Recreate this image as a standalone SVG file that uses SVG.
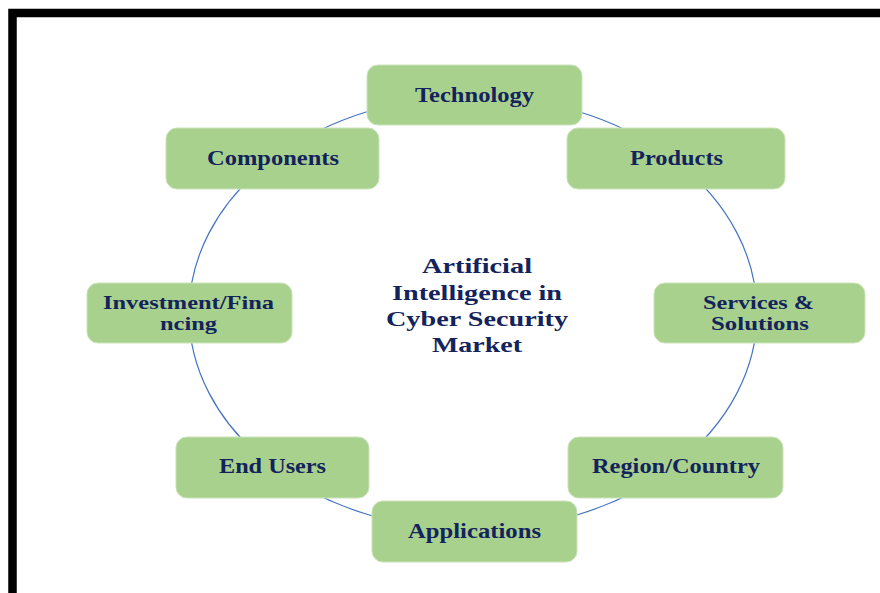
<svg xmlns="http://www.w3.org/2000/svg" width="880" height="593" viewBox="0 0 880 593">
<style>
.box{fill:#A9D18E;stroke:#C9E3B8;stroke-width:1}
.t{font-family:"Liberation Serif","Times New Roman",serif;font-weight:bold;font-size:20px;fill:#13235B;text-anchor:middle}
.c{font-size:21px}
.two{font-size:19px}
.conn{fill:none;stroke:#4472C4;stroke-width:1.2}
</style>
<rect width="880" height="593" fill="#ffffff"/>
<path d="M12.5,593 V13 H880" fill="none" stroke="#000" stroke-width="8.5"/>
<g id="connectors">
<ellipse class="conn" cx="473" cy="313" rx="284" ry="217"/>
</g>
<g id="center">
<text class="t c" x="477" y="273" textLength="110" lengthAdjust="spacingAndGlyphs">Artificial</text>
<text class="t c" x="477" y="300" textLength="170" lengthAdjust="spacingAndGlyphs">Intelligence in</text>
<text class="t c" x="477" y="326" textLength="182" lengthAdjust="spacingAndGlyphs">Cyber Security</text>
<text class="t c" x="477" y="352" textLength="90" lengthAdjust="spacingAndGlyphs">Market</text>
</g>
<g id="technology">
<rect class="box" x="367" y="65" width="215" height="60" rx="11"/>
<text class="t" x="474.5" y="101.5" textLength="119" lengthAdjust="spacingAndGlyphs">Technology</text>
</g>
<g id="products">
<rect class="box" x="567" y="128" width="218" height="61" rx="11"/>
<text class="t" x="676.5" y="165" textLength="93" lengthAdjust="spacingAndGlyphs">Products</text>
</g>
<g id="components">
<rect class="box" x="166" y="128" width="213" height="61" rx="11"/>
<text class="t" x="273" y="165" textLength="132" lengthAdjust="spacingAndGlyphs">Components</text>
</g>
<g id="investment">
<rect class="box" x="87" y="283" width="205" height="60" rx="11"/>
<text class="t two" x="188.5" y="308.5" textLength="171" lengthAdjust="spacingAndGlyphs">Investment/Fina</text>
<text class="t two" x="188.5" y="329.5" textLength="57" lengthAdjust="spacingAndGlyphs">ncing</text>
</g>
<g id="services">
<rect class="box" x="654" y="283" width="211" height="60" rx="11"/>
<text class="t two" x="758.5" y="308.5" textLength="111" lengthAdjust="spacingAndGlyphs">Services &amp;</text>
<text class="t two" x="760" y="329.5" textLength="98" lengthAdjust="spacingAndGlyphs">Solutions</text>
</g>
<g id="end-users">
<rect class="box" x="176" y="437" width="193" height="61" rx="11"/>
<text class="t" x="272.5" y="473" textLength="107" lengthAdjust="spacingAndGlyphs">End Users</text>
</g>
<g id="region">
<rect class="box" x="568" y="437" width="215" height="61" rx="11"/>
<text class="t" x="676" y="473" textLength="168" lengthAdjust="spacingAndGlyphs">Region/Country</text>
</g>
<g id="applications">
<rect class="box" x="372" y="501" width="205" height="61" rx="11"/>
<text class="t" x="474.5" y="538" textLength="133" lengthAdjust="spacingAndGlyphs">Applications</text>
</g>
</svg>
